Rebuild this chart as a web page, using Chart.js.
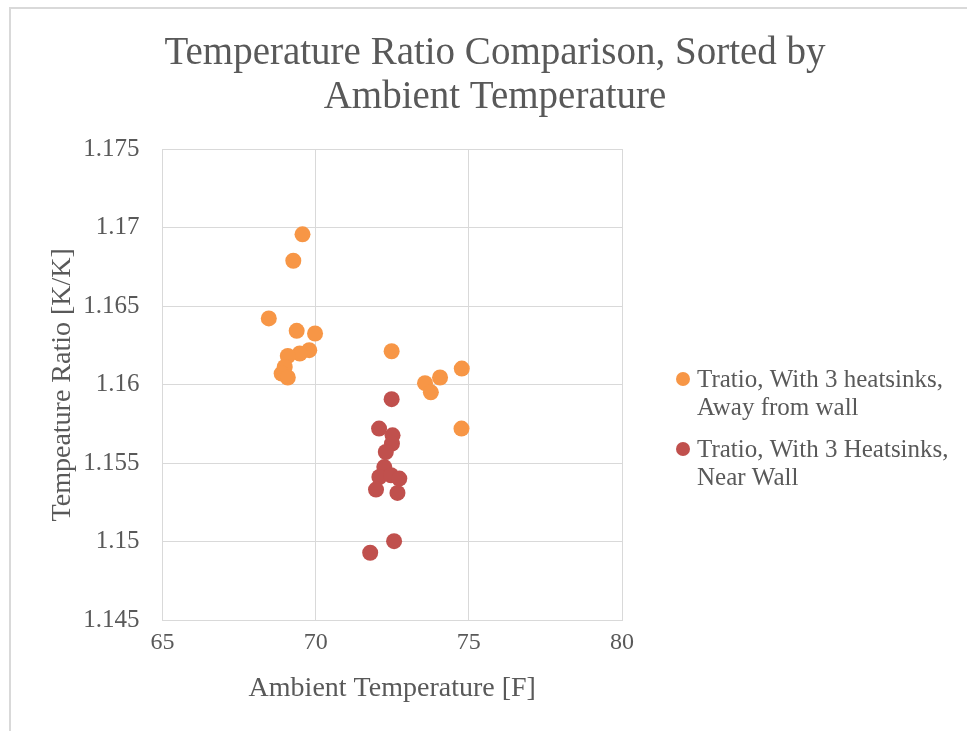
<!DOCTYPE html>
<html>
<head>
<meta charset="utf-8">
<title>Temperature Ratio Comparison</title>
<script src="https://cdn.jsdelivr.net/npm/chart.js@4/dist/chart.umd.min.js"></script>
<style>
  html, body { margin: 0; padding: 0; background: #fff; }
  #wrap { position: relative; width: 967px; height: 731px; }
</style>
</head>
<body>
<div id="wrap"><canvas id="myChart" width="967" height="731"></canvas></div>
<script>
// chart text
const titleLines = ["Temperature Ratio Comparison, Sorted by", "Ambient Temperature"];
const xTitle = "Ambient Temperature [F]";
const yTitle = "Tempeature Ratio [K/K]";
const awayLabel = ["Tratio, With 3 heatsinks,", "Away from wall"];
const nearLabel = ["Tratio, With 3 Heatsinks,", "Near Wall"];

// axis ticks
const xTicks = [65, 70, 75, 80];
const yTicks = [1.145, 1.15, 1.155, 1.16, 1.165, 1.17, 1.175];

// away from wall
const awayTemp = [68.47, 69.27, 69.57, 69.38, 69.98, 69.79, 69.48, 69.09, 68.99, 68.89, 69.09,
                  72.48, 74.77, 74.06, 73.57, 73.76, 74.76];
const awayRatio = [1.16422, 1.16789, 1.16957, 1.16343, 1.16326, 1.1622, 1.16199, 1.16183, 1.16113, 1.16071, 1.16046,
                   1.16213, 1.16103, 1.16046, 1.1601, 1.15952, 1.15721];

// near wall
const nearTemp = [72.48, 72.07, 72.51, 72.49, 72.29, 72.24, 72.08, 72.46, 72.73, 71.97, 72.67, 72.56, 71.78];
const nearRatio = [1.15908, 1.15721, 1.15678, 1.15625, 1.15572, 1.15476, 1.15413, 1.15424, 1.15403, 1.15333, 1.15312, 1.15005, 1.14931];

const ORANGE = "#F79646";
const RED = "#C0504D";
const GRID = "#D9D9D9";
const TEXT = "#595959";
const SERIF = "'Liberation Serif', 'DejaVu Serif', serif";

function toPoints(xs, ys) {
  return xs.map(function (x, i) { return { x: x, y: ys[i] }; });
}

// frame, title and the two-line legend are painted on the canvas
const decorations = {
  id: "decorations",
  beforeDraw(chart) {
    const ctx = chart.ctx;
    ctx.save();
    ctx.fillStyle = "#fff";
    ctx.fillRect(0, 0, chart.width, chart.height);
    ctx.strokeStyle = GRID;
    ctx.lineWidth = 2;
    ctx.beginPath();
    ctx.moveTo(10, chart.height + 5);
    ctx.lineTo(10, 8);
    ctx.lineTo(chart.width + 5, 8);
    ctx.stroke();
    ctx.restore();
  },
  afterDraw(chart) {
    const ctx = chart.ctx;
    ctx.save();
    ctx.fillStyle = TEXT;
    ctx.textAlign = "center";
    ctx.textBaseline = "middle";
    ctx.font = "39px " + SERIF;
    titleLines.forEach(function (line, i) {
      ctx.fillText(line, 495, 54 + i * 44);
    });

    ctx.textAlign = "left";
    ctx.font = "25px " + SERIF;
    chart.data.datasets.forEach(function (ds, i) {
      const y0 = 379 + i * 70;
      ctx.fillStyle = ds.backgroundColor;
      ctx.beginPath();
      ctx.arc(683, y0, 7, 0, Math.PI * 2);
      ctx.fill();
      ctx.fillStyle = TEXT;
      ds.legendLines.forEach(function (line, j) {
        ctx.fillText(line, 697, y0 + 1 + j * 28);
      });
    });
    ctx.restore();
  }
};

const ctx = document.getElementById("myChart");
new Chart(ctx, {
  type: "scatter",
  data: {
    datasets: [
      {
        label: awayLabel.join(" "),
        legendLines: awayLabel,
        data: toPoints(awayTemp, awayRatio),
        backgroundColor: ORANGE,
        borderColor: ORANGE,
        pointRadius: 8,
        pointBorderWidth: 0,
      },
      {
        label: nearLabel.join(" "),
        legendLines: nearLabel,
        data: toPoints(nearTemp, nearRatio),
        backgroundColor: RED,
        borderColor: RED,
        pointRadius: 8,
        pointBorderWidth: 0,
      },
    ],
  },
  options: {
    responsive: false,
    animation: false,
    layout: { padding: { top: 149, right: 345, left: 0, bottom: 0 } },
    plugins: {
      legend: { display: false },
      title: { display: false },
      tooltip: { enabled: false },
    },
    scales: {
      x: {
        type: "linear",
        min: xTicks[0],
        max: xTicks[xTicks.length - 1],
        afterBuildTicks(scale) {
          scale.ticks = xTicks.map(function (v) { return { value: v }; });
        },
        afterFit(scale) { scale.height = 110.5; },
        grid: { color: GRID, lineWidth: 1, drawTicks: false },
        border: { color: GRID, width: 1 },
        ticks: {
          color: TEXT,
          padding: 8,
          font: { family: SERIF, size: 24 },
        },
        title: {
          display: true,
          text: xTitle,
          color: TEXT,
          font: { family: SERIF, size: 28 },
          padding: { top: 0, bottom: 26 },
        },
      },
      y: {
        type: "linear",
        min: yTicks[0],
        max: yTicks[yTicks.length - 1],
        afterBuildTicks(scale) {
          scale.ticks = yTicks.map(function (v) { return { value: v }; });
        },
        afterFit(scale) { scale.width = 162.5; },
        grid: { color: GRID, lineWidth: 1, drawTicks: false },
        border: { color: GRID, width: 1 },
        ticks: {
          color: TEXT,
          padding: 23,
          font: { family: SERIF, size: 25 },
          callback: function (v) { return String(Math.round(v * 1000) / 1000); },
        },
        title: {
          display: true,
          text: yTitle,
          color: TEXT,
          font: { family: SERIF, size: 28 },
          padding: { top: 46, bottom: 0 },
        },
      },
    },
  },
  plugins: [decorations],
});
</script>
</body>
</html>
